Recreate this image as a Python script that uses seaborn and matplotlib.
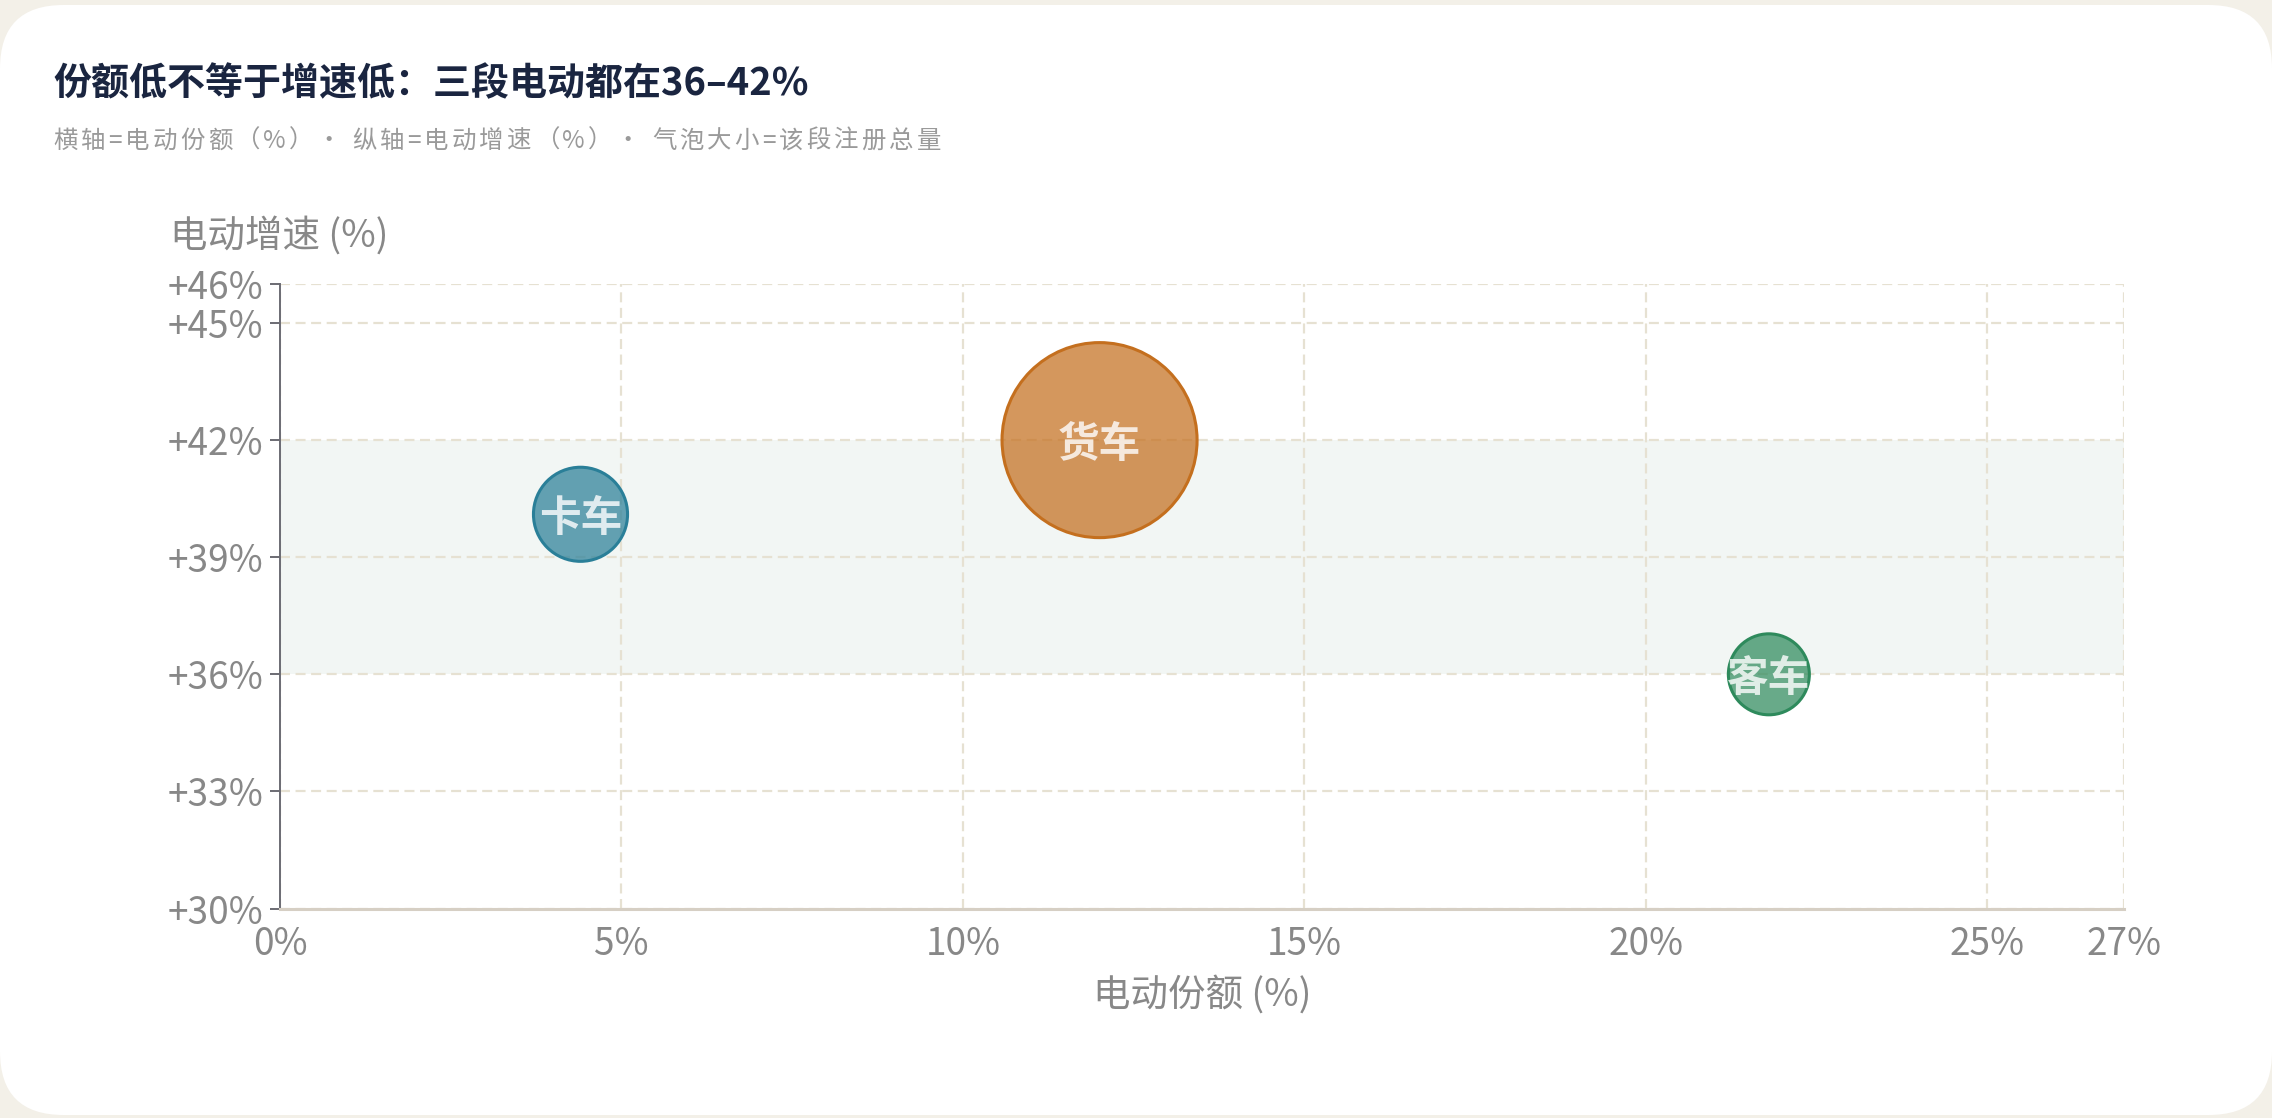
import matplotlib
matplotlib.use("Agg")
import matplotlib.pyplot as plt
import matplotlib.transforms as mtransforms
import seaborn as sns
import pandas as pd
import numpy as np
from matplotlib.patches import FancyBboxPatch
from matplotlib.ticker import FuncFormatter, FixedLocator

# ---------------- data ----------------
segments = ["卡车", "货车", "客车"]
ev_share = [4.4, 12.0, 21.8]          # 电动份额 (%)
ev_growth = [40.1, 42.0, 36.0]        # 电动增速 (%)
reg_total = [13.5, 58.0, 10.0]        # 该段注册总量 (相对量)
band_low, band_high = 36, 42
x_ticks = [0, 5, 10, 15, 20, 25, 27]
y_ticks = [30, 33, 36, 39, 42, 45, 46]

title = "份额低不等于增速低：三段电动都在36–42%"
subtitle = "横轴=电动份额（%）· 纵轴=电动增速（%）· 气泡大小=该段注册总量"
xlabel = "电动份额 (%)"
ylabel = "电动增速 (%)"

colors = {"卡车": "#2a7f98", "货车": "#c46f1e", "客车": "#2e8a5c"}

df = pd.DataFrame({"segment": segments, "share": ev_share,
                   "growth": ev_growth, "total": reg_total})

# ---------------- style ----------------
sns.set_theme(style="white")
plt.rcParams["font.family"] = ["Noto Sans CJK SC", "DejaVu Sans"]

W, H, DPI = 2272, 1118, 200
fig = plt.figure(figsize=(W / DPI, H / DPI), dpi=DPI)
fig.patch.set_facecolor("#f3f0e8")

card = FancyBboxPatch((0.0, 3 / H), 1.0, (H - 8) / H,
                      boxstyle="round,pad=0,rounding_size=0.028",
                      transform=fig.transFigure, facecolor="white",
                      edgecolor="none", zorder=-10, mutation_aspect=W / H)
fig.patches.append(card)

ax = fig.add_axes([280 / W, 1 - 908.5 / H, (2124 - 280) / W, (908.5 - 284) / H])
ax.set_facecolor("none")
ax.set_zorder(5)

ax.axhspan(band_low, band_high, color="#f2f6f4", zorder=0, lw=0)

sns.scatterplot(data=df, x="share", y="growth", hue="segment", palette=colors,
                size="total", sizes=(0, 4930), size_norm=(0, max(reg_total)),
                legend=False, ax=ax, zorder=3, linewidth=1.1)

coll = ax.collections[-1]
edge_rgba = [matplotlib.colors.to_rgba(colors[s]) for s in df["segment"]]
face_rgba = [matplotlib.colors.to_rgba(colors[s], 0.72) for s in df["segment"]]
coll.set_facecolors(face_rgba)
coll.set_edgecolors(edge_rgba)

label_tr = mtransforms.offset_copy(ax.transData, fig=fig, x=0, y=-5, units="dots")
for s, x, y in zip(segments, ev_share, ev_growth):
    ax.text(x, y, s, ha="center", va="center", fontsize=15, fontweight="bold",
            color=(1, 1, 1, 0.8), zorder=4, transform=label_tr)

ax.set_xlim(0, 27)
ax.set_ylim(30, 46)
ax.xaxis.set_major_locator(FixedLocator(x_ticks))
ax.yaxis.set_major_locator(FixedLocator(y_ticks))
ax.xaxis.set_major_formatter(FuncFormatter(lambda v, p: f"{v:g}%"))
ax.yaxis.set_major_formatter(FuncFormatter(lambda v, p: f"+{v:g}%"))

ax.grid(True, color="#e6e1d2", linewidth=0.8, linestyle=(0, (4.5, 2.5)), zorder=1)
ax.set_axisbelow(True)

for side in ["top", "right"]:
    ax.spines[side].set_visible(False)
ax.spines["left"].set_color("#6b6b73")
ax.spines["left"].set_linewidth(0.7)
ax.spines["bottom"].set_color("#d6cfc4")
ax.spines["bottom"].set_linewidth(1.1)

ax.tick_params(axis="y", which="major", length=3.6, width=0.7, color="#6b6b73",
               labelsize=13.3, labelcolor="#888888", pad=2.5, left=True)
ax.tick_params(axis="x", which="major", length=0, labelsize=13.3,
               labelcolor="#888888", pad=6, bottom=True)

ax.set_xlabel(xlabel, fontsize=13.5, color="#888888", labelpad=4)
ax.set_ylabel("")
fig.text(170 / W, 1 - 236 / H, ylabel, fontsize=13.5, color="#888888",
         ha="left", va="center")

fig.text(53 / W, 1 - 84 / H, title, fontsize=13.7, fontweight="bold",
         color="#1a2540", ha="left", va="center")

# subtitle with letter spacing, char by char
fig.canvas.draw()
renderer = fig.canvas.get_renderer()
x_px = 53.0
y_fig = 1 - 141 / H
spacing_px = 3.2
for ch in subtitle:
    t = fig.text(x_px / W, y_fig, ch, fontsize=8.8, color="#9a9a9a",
                 ha="left", va="center")
    bb = t.get_window_extent(renderer=renderer)
    x_px += bb.width + spacing_px

fig.savefig("out.png", dpi=DPI, facecolor=fig.get_facecolor())
